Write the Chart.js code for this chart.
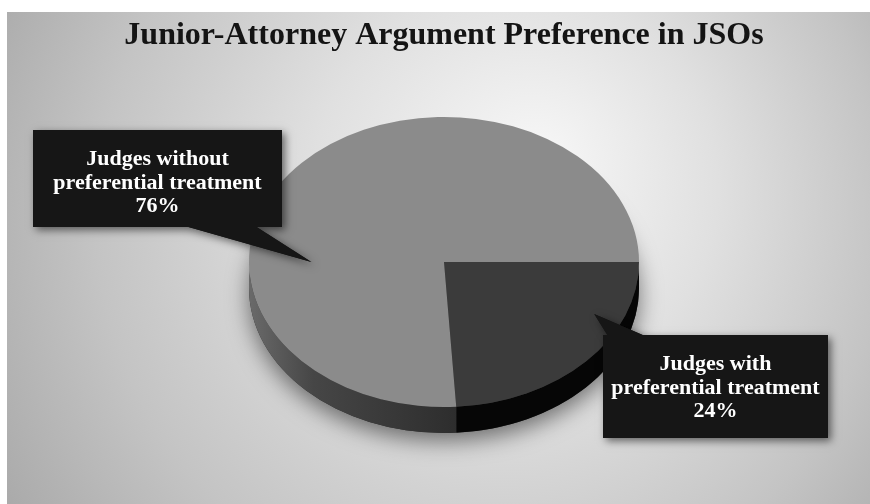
<!DOCTYPE html>
<html><head><meta charset="utf-8">
<script src="https://cdn.jsdelivr.net/npm/chart.js@4.4.1/dist/chart.umd.min.js"></script>
<style>html,body{margin:0;padding:0;background:#fff;overflow:hidden}</style>
</head><body>
<canvas id="c" width="870" height="504"></canvas>
<script>
// ---- data ----
const categories = ['Judges with preferential treatment', 'Judges without preferential treatment'];
const labelLines = [['Judges with', 'preferential treatment'], ['Judges without', 'preferential treatment']];
const shares = [24, 76];
const chartTitle = 'Junior-Attorney Argument Preference in JSOs';

// ---- styling / layout ----
const topColors = ['#3b3b3b', '#8b8b8b'];
const SY = 145 / 195;      // vertical squash of the tilted pie
const DEPTH = 26;          // thickness of the pie side
const callouts = [
  { x: 603, y: 335, w: 225, h: 103, edge: 'top', b0: 608, b1: 645, tipAngle: 25, tipR: 0.85 },
  { x: 33, y: 130, w: 249, h: 97, edge: 'bottom', b0: 185, b1: 255, tipAngle: 180, tipR: 0.68 }
];

const pie3d = {
  id: 'pie3d',
  beforeDraw(chart) {
    const ctx = chart.ctx;
    ctx.save();
    ctx.fillStyle = '#ffffff';
    ctx.fillRect(0, 0, chart.width, chart.height);
    const g = ctx.createRadialGradient(540, 160, 10, 470, 240, 560);
    g.addColorStop(0, '#f6f6f6');
    g.addColorStop(0.35, '#e0e0e0');
    g.addColorStop(0.7, '#c4c4c4');
    g.addColorStop(1, '#a6a6a6');
    ctx.fillStyle = g;
    ctx.fillRect(7, 12, chart.width - 7, chart.height - 12);
    ctx.restore();
  },
  beforeDatasetsDraw(chart) {
    const ctx = chart.ctx;
    const arcs = chart.getDatasetMeta(0).data;
    const p0 = arcs[0].getProps(['x', 'y', 'outerRadius'], true);
    const cx = p0.x, cy = p0.y, R = p0.outerRadius, ry = R * SY;
    ctx.save();
    ctx.shadowColor = 'rgba(0,0,0,0.5)';
    ctx.shadowBlur = 22;
    ctx.shadowOffsetY = 8;
    ctx.fillStyle = '#2a2a2a';
    ctx.beginPath();
    ctx.ellipse(cx, cy + DEPTH, R, ry, 0, 0, Math.PI * 2);
    ctx.fill();
    ctx.restore();
    arcs.forEach((arc, i) => {
      const { startAngle, endAngle } = arc.getProps(['startAngle', 'endAngle'], true);
      let grad;
      if (i === 0) {
        grad = '#060606';
      } else {
        grad = ctx.createLinearGradient(cx - R, 0, cx + 20, 0);
        grad.addColorStop(0, '#6a6a6a');
        grad.addColorStop(0.3, '#464646');
        grad.addColorStop(1, '#2c2c2c');
      }
      [0, Math.PI * 2].forEach(k => {
        const a = Math.max(startAngle, k), b = Math.min(endAngle, k + Math.PI);
        if (b <= a) return;
        ctx.save();
        ctx.fillStyle = grad;
        ctx.beginPath();
        ctx.ellipse(cx, cy, R, ry, 0, a, b);
        ctx.ellipse(cx, cy + DEPTH, R, ry, 0, b, a, true);
        ctx.closePath();
        ctx.fill();
        ctx.restore();
      });
    });
    ctx.save();
    ctx.translate(cx, cy);
    ctx.scale(1, SY);
    ctx.translate(-cx, -cy);
  },
  afterDatasetsDraw(chart) {
    const ctx = chart.ctx;
    ctx.restore();
    const arcs = chart.getDatasetMeta(0).data;
    arcs.forEach((arc, i) => {
      const c = callouts[i];
      const p = arc.getProps(['x', 'y', 'outerRadius'], true);
      const t = c.tipAngle * Math.PI / 180;
      const tx = p.x + Math.cos(t) * p.outerRadius * c.tipR;
      const ty = p.y + Math.sin(t) * p.outerRadius * SY * c.tipR;
      const ey = c.edge === 'top' ? c.y + 1 : c.y + c.h - 1;
      const shape = () => {
        ctx.beginPath();
        ctx.moveTo(c.b0, ey);
        ctx.lineTo(tx, ty);
        ctx.lineTo(c.b1, ey);
        ctx.closePath();
        ctx.fill();
        ctx.fillRect(c.x, c.y, c.w, c.h);
      };
      ctx.save();
      ctx.shadowColor = 'rgba(0,0,0,0.55)';
      ctx.shadowBlur = 8;
      ctx.shadowOffsetX = 3;
      ctx.shadowOffsetY = 3;
      ctx.fillStyle = '#161616';
      shape();
      ctx.restore();
      ctx.save();
      ctx.fillStyle = '#161616';
      shape();
      ctx.fillStyle = '#ffffff';
      ctx.font = 'bold 22px "Liberation Serif", "Times New Roman", serif';
      ctx.textAlign = 'center';
      ctx.textBaseline = 'alphabetic';
      const lines = labelLines[i].concat([shares[i] + '%']);
      lines.forEach((ln, j) => ctx.fillText(ln, c.x + c.w / 2, c.y + 35 + j * 23.5));
      ctx.restore();
    });
  }
};

new Chart(document.getElementById('c'), {
  type: 'pie',
  data: {
    labels: categories,
    datasets: [{
      data: shares,
      backgroundColor: topColors,
      borderWidth: 0,
      clip: false
    }]
  },
  options: {
    responsive: false,
    animation: false,
    rotation: 90,
    layout: { padding: { left: 18, right: 0, top: 4, bottom: 47 } },
    plugins: {
      legend: { display: false },
      tooltip: { enabled: false },
      title: {
        display: true,
        text: chartTitle,
        color: '#141414',
        font: { family: '"Liberation Serif", "Times New Roman", serif', size: 32, weight: 'bold', lineHeight: 1.2 },
        padding: { top: 13, bottom: 11.6 }
      }
    }
  },
  plugins: [pie3d]
});
</script>
</body></html>
